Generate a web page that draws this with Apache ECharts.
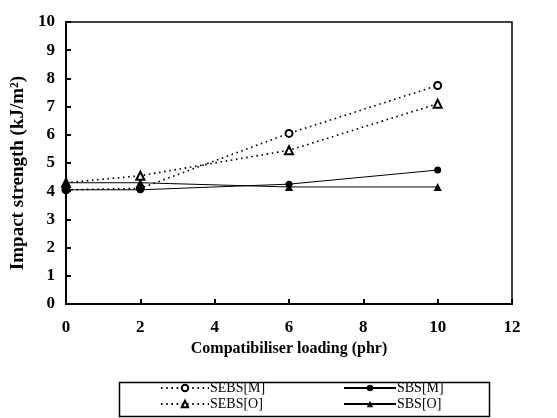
<!DOCTYPE html>
<html>
<head>
<meta charset="utf-8">
<script src="https://cdn.jsdelivr.net/npm/echarts@6/dist/echarts.min.js"></script>
<style>
  html, body { margin: 0; padding: 0; background: #fff; }
  #main { width: 557px; height: 418px; }
</style>
</head>
<body>
<div id="main"></div>
<script>
// 相容剂用量 (phr)
var loading = [0, 2, 6, 10]
// 冲击强度 (kJ/m2)
var sebsM = [4.05, 4.1, 6.05, 7.75]
var sebsO = [4.3, 4.55, 5.45, 7.1]
var sbsM = [4.05, 4.05, 4.25, 4.75]
var sbsO = [4.3, 4.3, 4.15, 4.15]

var FONT = 'Liberation Serif'
var DOTS = [1.6, 3.6]

function pairs(ys) {
    var out = []
    for (var i = 0; i < loading.length; i++) {
        out.push([loading[i], ys[i]])
    }
    return out
}

// 单个图例项
function legendItem(name, left, top, width, hollow) {
    return {
        data: [name],
        left: left, top: top,
        itemWidth: width, itemHeight: 8,
        padding: 0,
        itemStyle: hollow ? { borderWidth: 0.8 } : {},
        textStyle: { fontFamily: FONT, fontSize: 14, color: '#000', padding: [0, 0, 0, -4] }
    }
}

var chart = echarts.init(document.getElementById('main'))

var option = {
    backgroundColor: '#fff',
    animation: false,
    grid: {
        left: 66, right: 45, top: 22, bottom: 114,
        show: true,
        borderColor: '#000',
        borderWidth: 1.5
    },
    // 图例框
    graphic: [{
        type: 'rect',
        left: 117, top: 380,
        shape: { width: 370, height: 34 },
        style: { fill: 'none', stroke: '#000', lineWidth: 1.5 }
    }],
    legend: [
        legendItem('SEBS[M]', 160, 381, 48, true),
        legendItem('SEBS[O]', 160, 397, 48, true),
        legendItem('SBS[M]', 343, 381, 52, false),
        legendItem('SBS[O]', 343, 397, 52, false)
    ],
    xAxis: {
        type: 'value',
        min: 0, max: 12, interval: 2,
        name: 'Compatibiliser loading (phr)',
        nameLocation: 'middle',
        nameGap: 36,
        nameTextStyle: { fontFamily: FONT, fontSize: 16, fontWeight: 'bold', color: '#000' },
        axisLine: { lineStyle: { color: '#000', width: 2 } },
        axisTick: { inside: true, length: 5, lineStyle: { color: '#000', width: 2 } },
        axisLabel: { margin: 15, fontFamily: FONT, fontSize: 17, fontWeight: 'bold', color: '#000' },
        splitLine: { show: false }
    },
    yAxis: {
        type: 'value',
        min: 0, max: 10, interval: 1,
        name: 'Impact strength (kJ/m²)',
        nameLocation: 'middle',
        nameGap: 36,
        nameTextStyle: { fontFamily: FONT, fontSize: 19, fontWeight: 'bold', color: '#000', padding: [0, 20, 0, 0] },
        axisLine: { lineStyle: { color: '#000', width: 2 } },
        axisTick: { inside: true, length: 5, lineStyle: { color: '#000', width: 2 } },
        axisLabel: { margin: 11, fontFamily: FONT, fontSize: 17, fontWeight: 'bold', color: '#000' },
        splitLine: { show: false }
    },
    series: [{
        name: 'SEBS[M]',
        type: 'line',
        data: pairs(sebsM),
        symbol: 'emptyCircle', symbolSize: 7,
        lineStyle: { color: '#000', width: 1.6, type: DOTS },
        itemStyle: { color: '#000', borderWidth: 1.2 }
    }, {
        name: 'SEBS[O]',
        type: 'line',
        data: pairs(sebsO),
        symbol: 'emptyTriangle', symbolSize: 8,
        lineStyle: { color: '#000', width: 1.6, type: DOTS },
        itemStyle: { color: '#000', borderWidth: 1.2 }
    }, {
        name: 'SBS[M]',
        type: 'line',
        data: pairs(sbsM),
        symbol: 'circle', symbolSize: 7,
        lineStyle: { color: '#000', width: 1 },
        itemStyle: { color: '#000' }
    }, {
        name: 'SBS[O]',
        type: 'line',
        data: pairs(sbsO),
        symbol: 'triangle', symbolSize: 8,
        lineStyle: { color: '#000', width: 1 },
        itemStyle: { color: '#000' }
    }]
}

chart.setOption(option)
</script>
</body>
</html>
